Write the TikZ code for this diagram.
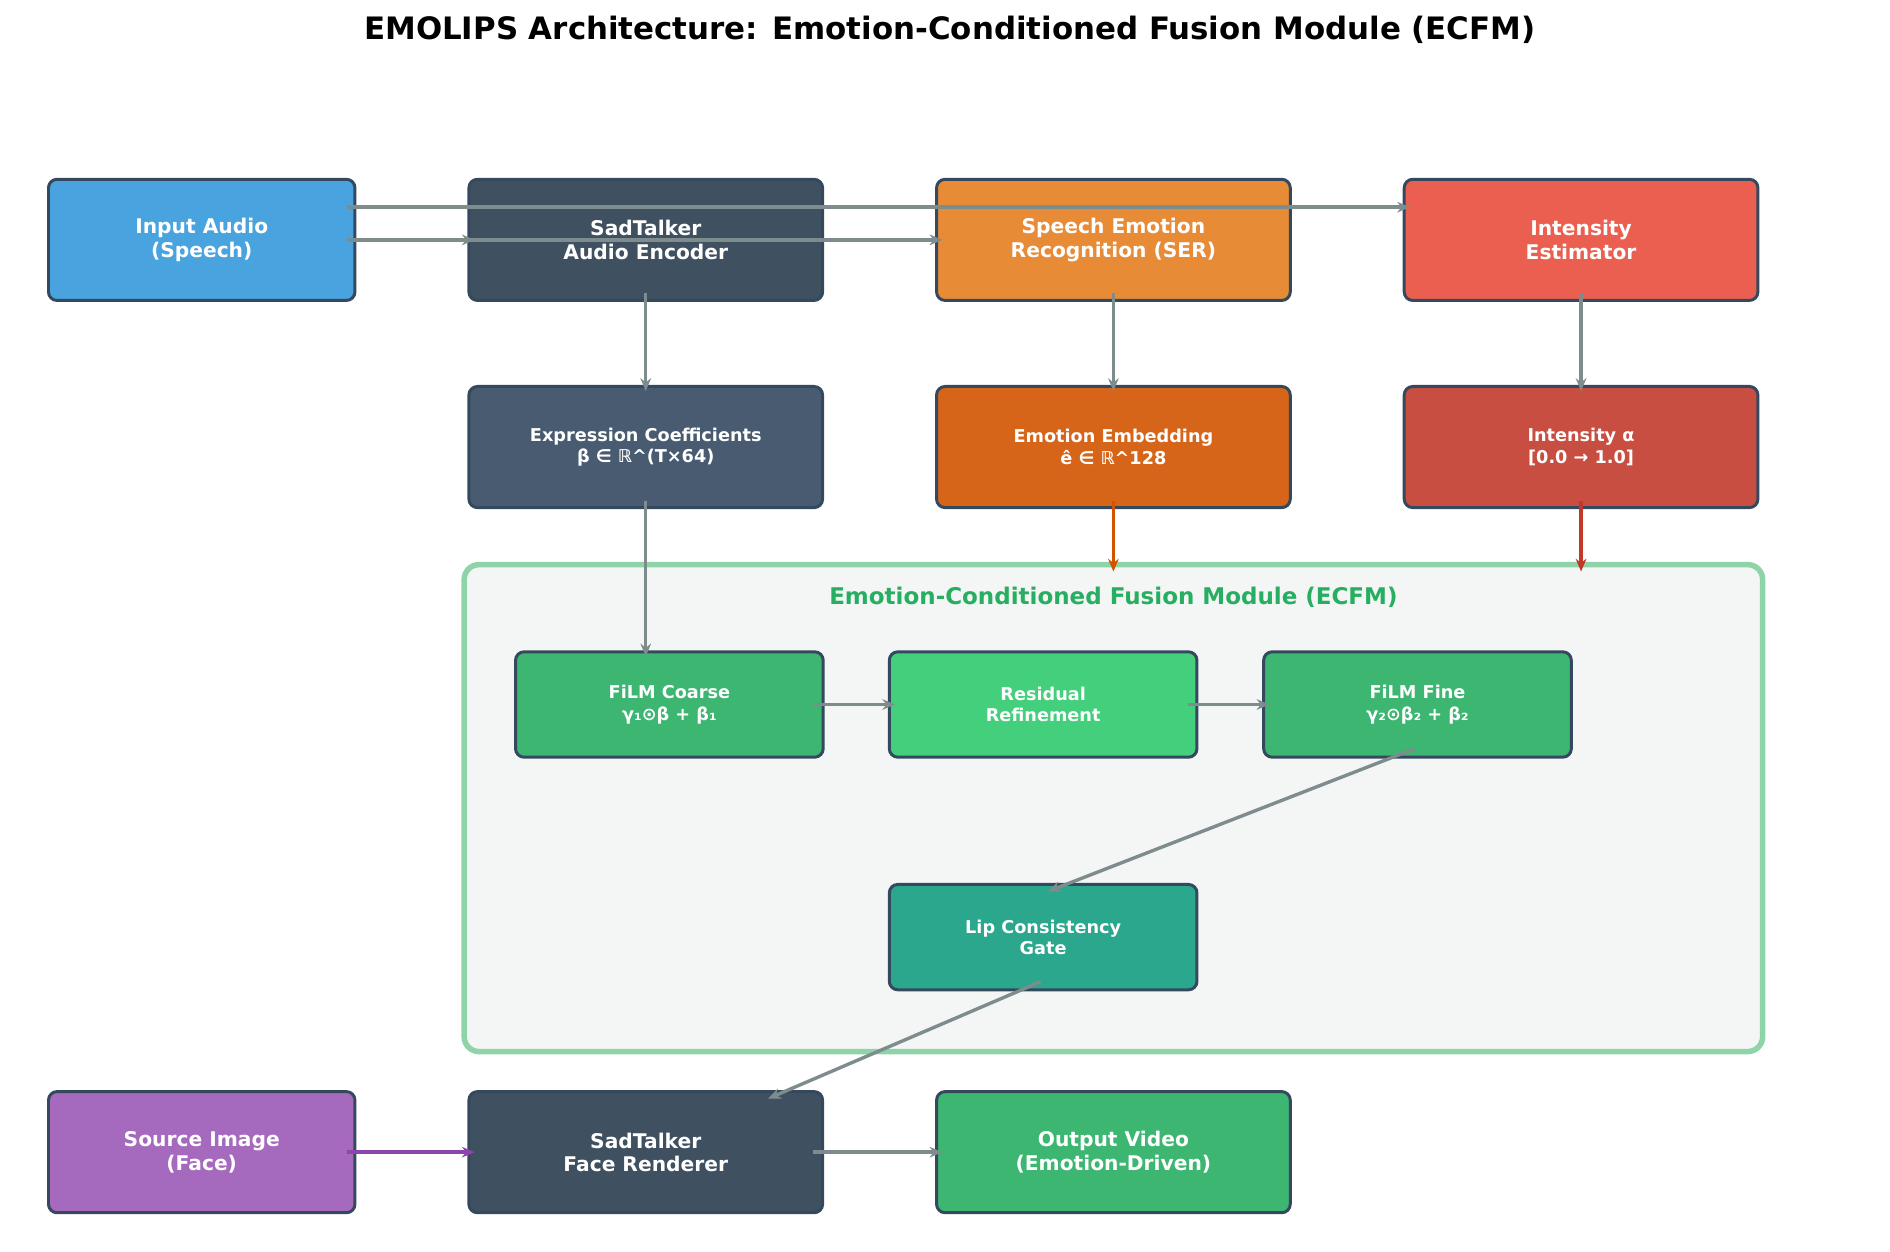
\documentclass[tikz,border=0pt]{standalone}
\usepackage{fontspec}
\setmainfont{DejaVu Sans}
\usetikzlibrary{calc,arrows.meta}
\definecolor{bd}{HTML}{34495E}
\definecolor{gr}{HTML}{7F8C8D}
\tikzset{
 box/.style={draw=bd,line width=1.4pt,rounded corners=4pt,text=white,font=\bfseries\fontsize{9.5}{11}\selectfont,align=center,inner sep=0pt},
 wide/.style={box,minimum width=5.84cm,minimum height=2cm},
 narrow/.style={box,minimum width=5.06cm,minimum height=2cm},
 small/.style={box,minimum width=5.08cm,minimum height=1.74cm,font=\bfseries\fontsize{8.3}{10}\selectfont},
 sm2/.style={wide,font=\bfseries\fontsize{8.3}{10}\selectfont},
 arr/.style={-{Stealth[length=6pt,width=5pt]},line width=1.6pt,draw=gr}
}
\begin{document}
\begin{tikzpicture}[x=0.02cm,y=-0.02cm]
\useasboundingbox (0,0) rectangle (1560,1033);
\node[font=\bfseries\fontsize{14.5}{16}\selectfont] (title) at (784,25) {EMOLIPS Architecture: Emotion-Conditioned Fusion Module (ECFM)};
\node[draw=green!55!teal!40,draw={rgb,255:red,143;green,211;blue,168},fill={rgb,255:red,244;green,246;blue,246},line width=2.6pt,rounded corners=7pt,minimum width=21.44cm,minimum height=8.04cm] (ecfm) at (919,667) {};
\node[text={rgb,255:red,39;green,174;blue,96},font=\bfseries\fontsize{10.8}{12}\selectfont] (ecfmt) at (919,493) {Emotion-Conditioned Fusion Module (ECFM)};
\node[narrow,fill={rgb,255:red,72;green,163;blue,223}] (in) at (166.5,198) {Input Audio\\(Speech)};
\node[wide,fill={rgb,255:red,63;green,80;blue,97}] (sae) at (533,198) {SadTalker\\Audio Encoder};
\node[wide,fill={rgb,255:red,232;green,139;blue,55}] (ser) at (919,198) {Speech Emotion\\Recognition (SER)};
\node[wide,fill={rgb,255:red,235;green,95;blue,81}] (ie) at (1305,198) {Intensity\\Estimator};
\node[sm2,fill={rgb,255:red,72;green,91;blue,112}] (expr) at (533,369) {Expression Coefficients\\β ∈ ℝ\^{}(T×64)};
\node[sm2,fill={rgb,255:red,214;green,101;blue,25}] (emb) at (919,369) {Emotion Embedding\\ê ∈ ℝ\^{}128};
\node[sm2,fill={rgb,255:red,199;green,78;blue,64}] (ia) at (1305,369) {Intensity α\\{[}0.0 → 1.0{]}};
\node[small,fill={rgb,255:red,61;green,182;blue,114}] (coarse) at (552.5,581.5) {FiLM Coarse\\γ₁⊙β + β₁};
\node[small,fill={rgb,255:red,67;green,207;blue,123}] (res) at (861,581.5) {Residual\\Refinement};
\node[small,fill={rgb,255:red,61;green,182;blue,114}] (fine) at (1170,581.5) {FiLM Fine\\γ₂⊙β₂ + β₂};
\node[small,fill={rgb,255:red,42;green,167;blue,140}] (lip) at (861,773.5) {Lip Consistency\\Gate};
\node[narrow,fill={rgb,255:red,165;green,105;blue,189}] (src) at (166.5,951) {Source Image\\(Face)};
\node[wide,fill={rgb,255:red,63;green,80;blue,97}] (fr) at (533,951) {SadTalker\\Face Renderer};
\node[wide,fill={rgb,255:red,61;green,182;blue,114}] (out) at (919,951) {Output Video\\(Emotion-Driven)};
\draw[arr] ($(in.east)+(-8,-27)$) -- ($(ie.west)+(6,-27)$);
\draw[arr] ($(in.east)+(-8,0)$) -- ($(ser.west)+(6,0)$);
\draw[arr] ($(in.east)+(-8,0)$) -- ($(sae.west)+(6,0)$);
\draw[arr] ($(sae.south)+(0,-7)$) -- ($(expr.north)+(0,5)$);
\draw[arr] ($(ser.south)+(0,-7)$) -- ($(emb.north)+(0,5)$);
\draw[arr] ($(ie.south)+(0,-7)$) -- ($(ia.north)+(0,5)$);
\draw[arr] ($(expr.south)+(0,-7)$) -- ($(coarse.north -| expr.south)+(0,5)$);
\draw[arr,draw={rgb,255:red,211;green,84;blue,0}] ($(emb.south)+(0,-7)$) -- ($(emb.south |- ecfm.north)+(0,8)$);
\draw[arr,draw={rgb,255:red,192;green,57;blue,43}] ($(ia.south)+(0,-7)$) -- ($(ia.south |- ecfm.north)+(0,8)$);
\draw[arr] ($(coarse.east)+(-9,0)$) -- ($(res.west)+(6,0)$);
\draw[arr] ($(res.east)+(-9,0)$) -- ($(fine.west)+(6,0)$);
\draw[arr] ($(fine.south)+(-3,-8)$) -- ($(lip.north)+(4,7)$);
\draw[arr] ($(lip.south)+(-2,-8)$) -- ($(fr.north)+(101,7)$);
\draw[arr,draw={rgb,255:red,142;green,68;blue,173}] ($(src.east)+(-8,0)$) -- ($(fr.west)+(6,0)$);
\draw[arr] ($(fr.east)+(-9,0)$) -- ($(out.west)+(6,0)$);
\end{tikzpicture}
\end{document}
